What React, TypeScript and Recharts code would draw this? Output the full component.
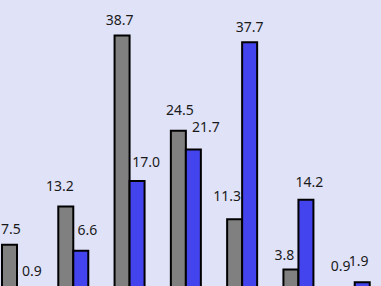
import { BarChart, Bar, XAxis, YAxis, LabelList } from 'recharts'

const categories = ['1', '2', '3', '4', '5', '6', '7']
const grayValues = [7.5, 13.2, 38.7, 24.5, 11.3, 3.8, 0.9]
const blueValues = [0.9, 6.6, 17.0, 21.7, 37.7, 14.2, 1.9]

// label nudges (labels are not evenly placed there)
const grayLabelDx = [1.5, -6, -2.5, 1.5, -7.5, -6.5, -6.5]
const grayLabelGap = [10, 15, 10, 15, 17, 9, 17]
const blueLabelDx = [7.5, 6.5, 9, 12.5, 0, 3.5, -3.5]
const blueLabelGap = [12, 15, 13, 17, 9, 12, 15]

const data = categories.map((c, i) => ({ name: c, gray: grayValues[i], blue: blueValues[i] }))

const makeLabel = (dxs: number[], gaps: number[]) => (props: any) => {
  const { x, y, width, value, index } = props
  const cx = Number(x) + Number(width) / 2 + dxs[index]
  const ty = Number(y) - 1 - gaps[index]
  return (
    <text
      x={cx}
      y={ty}
      textAnchor="middle"
      fontFamily="'Noto Sans', sans-serif"
      fontSize={14}
      fill="#1a1a1a"
    >
      {Number(value).toFixed(1)}
    </text>
  )
}

export default function App() {
  return (
    <div
      style={{
        position: 'fixed',
        left: 0,
        top: 0,
        width: 381,
        height: 286,
        overflow: 'hidden',
        background: '#e0e2f8',
      }}
    >
      <div style={{ position: 'absolute', left: -11, top: 0 }}>
        <BarChart
          width={394}
          height={295}
          data={data}
          margin={{ top: 0, right: 0, bottom: 0, left: 0 }}
          barGap={0}
        >
          <XAxis dataKey="name" hide />
          <YAxis hide domain={[0, 44]} />
          <Bar dataKey="gray" fill="#808080" stroke="#000" strokeWidth={2} barSize={15} isAnimationActive={false}>
            <LabelList dataKey="gray" content={makeLabel(grayLabelDx, grayLabelGap)} />
          </Bar>
          <Bar dataKey="blue" fill="#4444ee" stroke="#000" strokeWidth={2} barSize={15} isAnimationActive={false}>
            <LabelList dataKey="blue" content={makeLabel(blueLabelDx, blueLabelGap)} />
          </Bar>
        </BarChart>
      </div>
    </div>
  )
}
